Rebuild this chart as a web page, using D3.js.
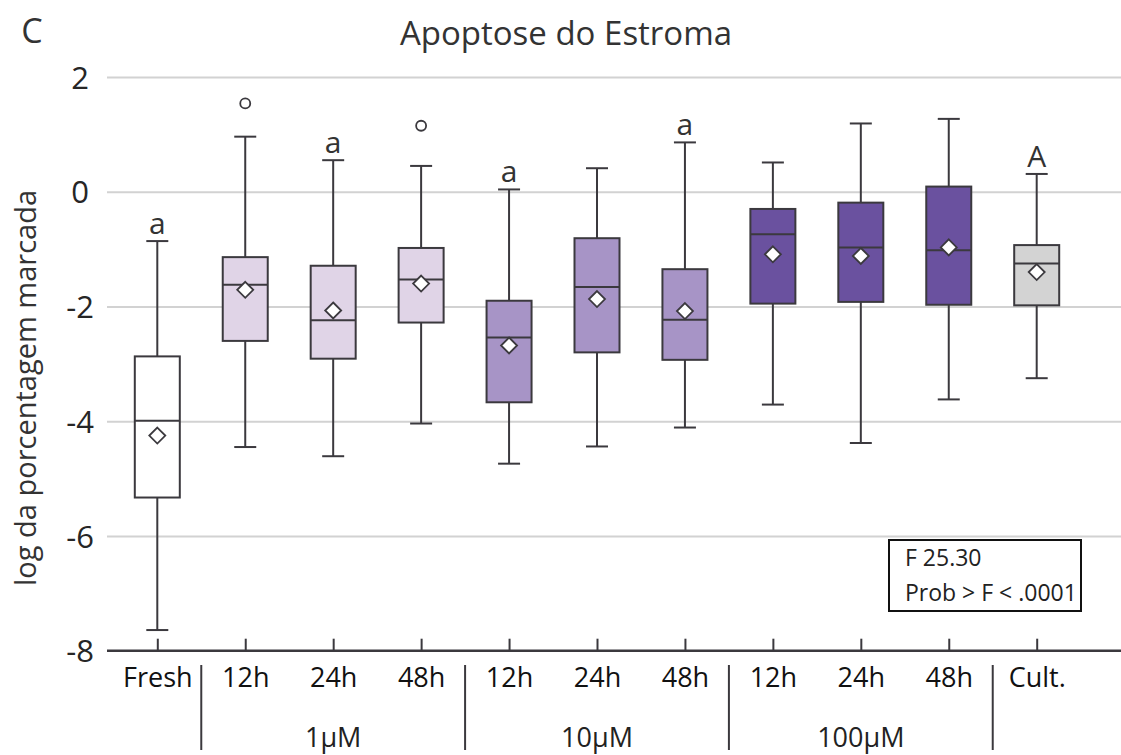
<!DOCTYPE html>
<html>
<head>
<meta charset="utf-8">
<script src="https://cdn.jsdelivr.net/npm/d3@7"></script>
<style>
  body { margin: 0; background: #fff; }
  svg, svg text { font-family: "Open Sans", sans-serif; }
  svg { display: block; }
</style>
</head>
<body>
<svg width="1121" height="755"></svg>
<script>
// categories along the x axis
const keys = ["fresh", "1-12", "1-24", "1-48", "10-12", "10-24", "10-48", "100-12", "100-24", "100-48", "cult"];
const tickLabels = ["Fresh", "12h", "24h", "48h", "12h", "24h", "48h", "12h", "24h", "48h", "Cult."];
const groupOf = ["Fresh", "1µM", "1µM", "1µM", "10µM", "10µM", "10µM", "100µM", "100µM", "100µM", "Cult."];
const groupLabels = ["1µM", "10µM", "100µM"];

// box plot statistics (log da porcentagem marcada)
const whiskerHigh = [-0.86, 0.96, 0.55, 0.45, 0.04, 0.41, 0.86, 0.51, 1.19, 1.27, 0.31];
const q3 = [-2.87, -1.14, -1.29, -0.98, -1.90, -0.81, -1.35, -0.30, -0.19, 0.09, -0.93];
const median = [-3.99, -1.62, -2.24, -1.53, -2.54, -1.66, -2.23, -0.74, -0.97, -1.02, -1.25];
const q1 = [-5.33, -2.60, -2.91, -2.28, -3.67, -2.80, -2.93, -1.95, -1.92, -1.97, -1.98];
const whiskerLow = [-7.64, -4.45, -4.61, -4.04, -4.74, -4.44, -4.11, -3.71, -4.38, -3.62, -3.25];
const means = [-4.25, -1.71, -2.07, -1.60, -2.68, -1.87, -2.08, -1.09, -1.12, -0.97, -1.40];
const outliers = [[], [1.54], [], [1.15], [], [], [], [], [], [], []];
const letters = ["a", "", "a", "", "a", "", "a", "", "", "", "A"];

const yTicks = [2, 0, -2, -4, -6, -8];
const statLines = ["F 25.30", "Prob > F < .0001"];

const fills = { "Fresh": "#ffffff", "1µM": "#e0d4e7", "10µM": "#a794c6", "100µM": "#6a519f", "Cult.": "#d3d3d3" };
const ink = "#3b393e";
const font = '"Open Sans", sans-serif';

const svg = d3.select("svg");
const left = 107, right = 1121;

const y = d3.scaleLinear().domain([-8, 2]).range([650.7, 77]);
const x = d3.scalePoint().domain(keys).range([157.3, 1036.7]);
const step = x.step();

const rows = keys.map((k, i) => ({
  key: k, label: tickLabels[i], group: groupOf[i],
  lo: whiskerLow[i], q1: q1[i], med: median[i], q3: q3[i], hi: whiskerHigh[i],
  mean: means[i], out: outliers[i], letter: letters[i]
}));

// gridlines + y labels
const yAxis = svg.append("g")
  .attr("transform", `translate(${left},0)`)
  .call(d3.axisLeft(y).tickValues(yTicks).tickSize(-(right - left)).tickFormat(d => String(d)))
  .attr("font-family", font);
yAxis.select(".domain").remove();
yAxis.selectAll(".tick line")
  .attr("stroke", "#d2d2d2").attr("stroke-width", 2)
  .filter(d => d === -8).remove();
yAxis.selectAll(".tick text")
  .attr("x", 80 - left).attr("text-anchor", "middle")
  .attr("dy", "0.36em")
  .attr("font-size", 31).attr("fill", "#262626");

// x axis with inward ticks
const xAxis = svg.append("g")
  .attr("transform", `translate(0,${y(-8)})`)
  .call(d3.axisBottom(x).tickSize(-12).tickFormat((d, i) => tickLabels[i]))
  .attr("font-family", font);
xAxis.select(".domain")
  .attr("d", `M${left},0H${right}`)
  .attr("stroke", ink).attr("stroke-width", 2.5);
xAxis.selectAll(".tick line").attr("stroke", ink).attr("stroke-width", 2);
xAxis.selectAll(".tick text")
  .attr("y", 36).attr("dy", 0)
  .attr("font-size", 27).attr("fill", "#111");

// group separators and labels
const splits = [0, 3, 6, 9];
svg.append("g").selectAll("line")
  .data(splits)
  .join("line")
  .attr("x1", i => x(keys[i]) + step / 2)
  .attr("x2", i => x(keys[i]) + step / 2)
  .attr("y1", 665).attr("y2", 750)
  .attr("stroke", ink).attr("stroke-width", 2);

svg.append("g").selectAll("text")
  .data(groupLabels)
  .join("text")
  .attr("x", g => d3.mean(keys.filter((k, i) => groupOf[i] === g), k => x(k)))
  .attr("y", 747)
  .attr("text-anchor", "middle")
  .attr("font-size", 27).attr("fill", "#222")
  .text(g => g);

// boxes
const boxW = 45, capW = 22;
const box = svg.append("g").selectAll("g")
  .data(rows)
  .join("g")
  .attr("transform", d => `translate(${x(d.key)},0)`);

box.append("line")
  .attr("y1", d => y(d.hi)).attr("y2", d => y(d.lo))
  .attr("stroke", ink).attr("stroke-width", 2);
box.append("line")
  .attr("x1", -capW / 2).attr("x2", capW / 2)
  .attr("y1", d => y(d.hi)).attr("y2", d => y(d.hi))
  .attr("stroke", ink).attr("stroke-width", 2);
box.append("line")
  .attr("x1", -capW / 2).attr("x2", capW / 2)
  .attr("y1", d => y(d.lo)).attr("y2", d => y(d.lo))
  .attr("stroke", ink).attr("stroke-width", 2);
box.append("rect")
  .attr("x", -boxW / 2).attr("width", boxW)
  .attr("y", d => y(d.q3)).attr("height", d => y(d.q1) - y(d.q3))
  .attr("fill", d => fills[d.group])
  .attr("stroke", ink).attr("stroke-width", 2);
box.append("line")
  .attr("x1", -boxW / 2).attr("x2", boxW / 2)
  .attr("y1", d => y(d.med)).attr("y2", d => y(d.med))
  .attr("stroke", ink).attr("stroke-width", 2);
box.append("path")
  .attr("d", d => { const c = y(d.mean), r = 8; return `M0,${c - r}L${r},${c}L0,${c + r}L${-r},${c}Z`; })
  .attr("fill", "#fff").attr("stroke", ink).attr("stroke-width", 1.8);
box.selectAll("circle")
  .data(d => d.out)
  .join("circle")
  .attr("r", 5).attr("cy", v => y(v))
  .attr("fill", "none").attr("stroke", ink).attr("stroke-width", 1.8);
box.append("text")
  .attr("y", d => y(d.hi) - 7)
  .attr("text-anchor", "middle")
  .attr("font-size", 30).attr("fill", "#333")
  .text(d => d.letter);

// titles
svg.append("text")
  .attr("x", 566).attr("y", 45)
  .attr("text-anchor", "middle")
  .attr("font-size", 33).attr("fill", "#333")
  .text("Apoptose do Estroma");
svg.append("text")
  .attr("x", 32).attr("y", 43)
  .attr("text-anchor", "middle")
  .attr("font-size", 34).attr("fill", "#333")
  .text("C");
svg.append("text")
  .attr("transform", "translate(36,388) rotate(-90)")
  .attr("text-anchor", "middle")
  .attr("font-size", 29).attr("fill", "#333")
  .text("log da porcentagem marcada");

// F statistics box
const stat = svg.append("g");
stat.append("rect")
  .attr("x", 889).attr("y", 540).attr("width", 192).attr("height", 71)
  .attr("fill", "#fff").attr("stroke", "#111").attr("stroke-width", 2);
stat.selectAll("text")
  .data(statLines)
  .join("text")
  .attr("x", 905).attr("y", (d, i) => 566 + i * 35)
  .attr("font-size", 23).attr("fill", "#222")
  .text(d => d);
</script>
</body>
</html>
